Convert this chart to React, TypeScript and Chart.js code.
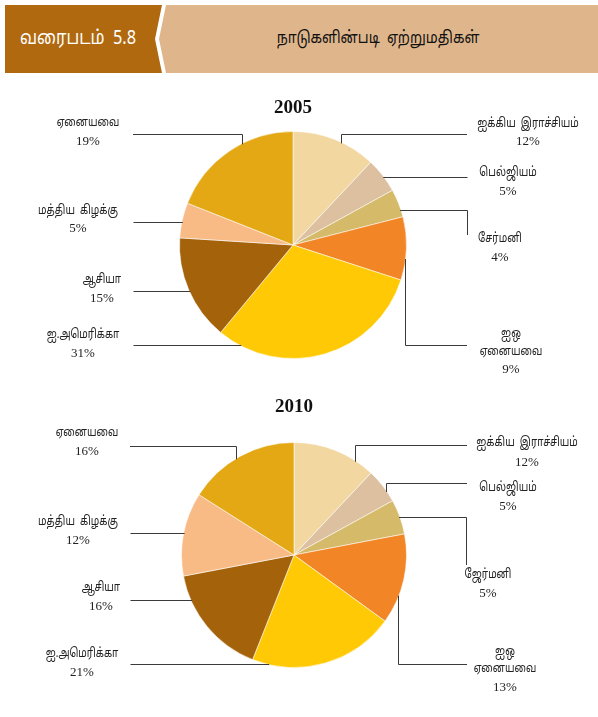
import React, { useEffect, useRef } from 'react';
import { Chart, registerables } from 'chart.js';

Chart.register(...registerables);

// ---------- data ----------
const categories2005 = ['ஐக்கிய  இராச்சியம்', 'பெல்ஜியம்', 'சேர்மனி', 'ஐஒ\nஏனையவை', 'ஐ.அமெரிக்கா', 'ஆசியா', 'மத்திய  கிழக்கு', 'ஏனையவை'];
const categories2010 = ['ஐக்கிய  இராச்சியம்', 'பெல்ஜியம்', 'ஜேர்மனி', 'ஐஒ\nஏனையவை', 'ஐ.அமெரிக்கா', 'ஆசியா', 'மத்திய  கிழக்கு', 'ஏனையவை'];
const values2005 = [12, 5, 4, 9, 31, 15, 5, 19];
const values2010 = [12, 5, 5, 13, 21, 16, 12, 16];
const sliceColors = ['#F3D7A0', '#DDC0A0', '#D5BA6A', '#F28525', '#FFCA05', '#A4620A', '#F9BB86', '#E3A814'];
const chartTitles = ['2005', '2010'];
const figureLabel = 'வரைபடம்  5.8';
const figureTitle = 'நாடுகளின்படி  ஏற்றுமதிகள்';

// ---------- layout (page coordinates) ----------
type Leader = { kind: 'h' | 'v' | 'hv'; y: number; x?: number; endX: number; endY?: number; tx: number; ty: number[] };

const leaders2005: Leader[] = [
  { kind: 'v', x: 341, y: 134, endX: 467, tx: 528, ty: [124, 142] },
  { kind: 'h', y: 177, endX: 467, tx: 508, ty: [173, 192] },
  { kind: 'hv', y: 210, endX: 467, endY: 235, tx: 500, ty: [239, 258] },
  { kind: 'v', x: 405, y: 345, endX: 467, tx: 511, ty: [334, 352, 370] },
  { kind: 'h', y: 345, endX: 133, tx: 83, ty: [335, 354] },
  { kind: 'h', y: 291, endX: 133, tx: 102, ty: [280, 299] },
  { kind: 'h', y: 222, endX: 133, tx: 78, ty: [211, 229] },
  { kind: 'v', x: 242, y: 134, endX: 133, tx: 88, ty: [123, 142] },
];

const leaders2010: Leader[] = [
  { kind: 'v', x: 355, y: 445, endX: 467, tx: 527, ty: [443, 463] },
  { kind: 'v', x: 386, y: 483, endX: 467, tx: 508, ty: [488, 507] },
  { kind: 'hv', y: 517, endX: 466, endY: 565, tx: 488, ty: [575, 594] },
  { kind: 'v', x: 398, y: 664, endX: 467, tx: 505, ty: [652, 669, 688] },
  { kind: 'h', y: 664, endX: 130, tx: 82, ty: [654, 673] },
  { kind: 'h', y: 600, endX: 130, tx: 101, ty: [588, 607] },
  { kind: 'h', y: 533, endX: 130, tx: 78, ty: [522, 541] },
  { kind: 'v', x: 236, y: 446, endX: 130, tx: 87, ty: [433, 452] },
];

const TAMIL_FONT = '"Noto Sans Tamil", "Latha", "Lohit Tamil", "Noto Serif Tamil", sans-serif';
const SERIF_FONT = '"Liberation Serif", "Times New Roman", serif';
const TAMIL_SQUEEZE = 0.76;

function makePlugin(title: string, titleY: number, leaders: Leader[], cats: string[], vals: number[], top: number) {
  return {
    id: 'leaderLabels' + title,
    afterDraw(chart: any) {
      const ctx: CanvasRenderingContext2D = chart.ctx;
      const arc: any = chart.getDatasetMeta(0).data[0];
      const cx = arc.x;
      const cy = arc.y;
      const r = arc.outerRadius;
      ctx.save();
      ctx.textAlign = 'center';
      ctx.textBaseline = 'middle';
      ctx.fillStyle = '#111';
      ctx.font = 'bold 19px ' + SERIF_FONT;
      ctx.fillText(title, cx, titleY - top);

      ctx.strokeStyle = '#3a3a3a';
      ctx.lineWidth = 1;
      leaders.forEach((L, i) => {
        const y = Math.round(L.y - top) + 0.5;
        ctx.beginPath();
        if (L.kind === 'v') {
          const x = Math.round(L.x as number) + 0.5;
          const dx = x - cx;
          const dy = Math.sqrt(Math.max(0, r * r - dx * dx));
          const sy = y < cy ? cy - dy + 1 : cy + dy - 1;
          ctx.moveTo(x, sy);
          ctx.lineTo(x, y);
          ctx.lineTo(L.endX, y);
        } else {
          const dy = y - cy;
          const dx = Math.sqrt(Math.max(0, r * r - dy * dy));
          const sx = L.endX > cx ? cx + dx - 1 : cx - dx + 1;
          ctx.moveTo(sx, y);
          const ex = Math.round(L.endX) + 0.5;
          ctx.lineTo(ex, y);
          if (L.kind === 'hv') ctx.lineTo(ex, (L.endY as number) - top);
        }
        ctx.stroke();

        const lines = cats[i].split('\n');
        ctx.fillStyle = '#222';
        lines.forEach((t, k) => {
          ctx.save();
          ctx.translate(L.tx, L.ty[k] - top);
          ctx.scale(TAMIL_SQUEEZE, 1);
          ctx.font = '13px ' + TAMIL_FONT;
          ctx.fillText(t, 0, 0);
          ctx.restore();
        });
        ctx.font = '13px ' + SERIF_FONT;
        ctx.fillText(vals[i] + '%', L.tx, L.ty[lines.length] - top);
      });
      ctx.restore();
    },
  };
}

function PieChart(props: { top: number; height: number; values: number[]; cats: string[]; title: string; titleY: number; leaders: Leader[]; cx: number; cy: number; r: number }) {
  const ref = useRef<HTMLCanvasElement>(null);
  useEffect(() => {
    const { top, height, values, cats, title, titleY, leaders, cx, cy, r } = props;
    const left = cx - r;
    const right = 598 - (cx + r);
    const padTop = cy - r - top;
    const padBottom = height - (cy + r - top);
    const chart = new Chart(ref.current as HTMLCanvasElement, {
      type: 'pie',
      data: {
        labels: cats,
        datasets: [
          {
            data: values,
            backgroundColor: sliceColors,
            borderColor: 'rgba(255,255,255,0.55)',
            borderWidth: 1,
          },
        ],
      },
      options: {
        animation: false,
        responsive: false,
        devicePixelRatio: 1,
        layout: { padding: { left, right, top: padTop, bottom: padBottom } },
        plugins: { legend: { display: false }, tooltip: { enabled: false }, title: { display: false } },
      },
      plugins: [makePlugin(title, titleY, leaders, cats, values, top)],
    });
    return () => chart.destroy();
  }, []);
  return (
    <canvas
      ref={ref}
      width={598}
      height={props.height}
      style={{ position: 'absolute', left: 0, top: props.top, width: 598, height: props.height }}
    />
  );
}

export default function App() {
  return (
    <div style={{ position: 'absolute', left: 0, top: 0, width: 598, height: 717, background: '#fff', overflow: 'hidden' }}>
      <div
        style={{
          position: 'absolute', left: 5, top: 5, width: 157, height: 68, background: '#B0690F',
          clipPath: 'polygon(0 0, 157px 0, 150px 34px, 157px 68px, 0 68px)',
        }}
      />
      <div
        style={{
          position: 'absolute', left: 20, top: 5, height: 68, lineHeight: '68px', color: '#fff',
          fontFamily: TAMIL_FONT, fontSize: 19, whiteSpace: 'pre', transform: 'scaleX(0.86)', transformOrigin: '0 50%',
        }}
      >
        {figureLabel}
      </div>
      <div
        style={{
          position: 'absolute', left: 159, top: 5, width: 439, height: 68, background: '#DFB68C',
          clipPath: 'polygon(7px 0, 439px 0, 439px 68px, 7px 68px, 0 34px)',
        }}
      />
      <div
        style={{
          position: 'absolute', left: 166, top: 5, width: 424, height: 68, lineHeight: '68px', color: '#111',
          fontFamily: TAMIL_FONT, fontSize: 17, textAlign: 'center', whiteSpace: 'pre',
          transform: 'scaleX(0.82)', transformOrigin: '212px 50%',
        }}
      >
        {figureTitle}
      </div>
      <PieChart top={90} height={300} values={values2005} cats={categories2005} title={chartTitles[0]} titleY={108}
        leaders={leaders2005} cx={293} cy={245} r={114} />
      <PieChart top={390} height={327} values={values2010} cats={categories2010} title={chartTitles[1]} titleY={407}
        leaders={leaders2010} cx={294} cy={555} r={113} />
    </div>
  );
}
